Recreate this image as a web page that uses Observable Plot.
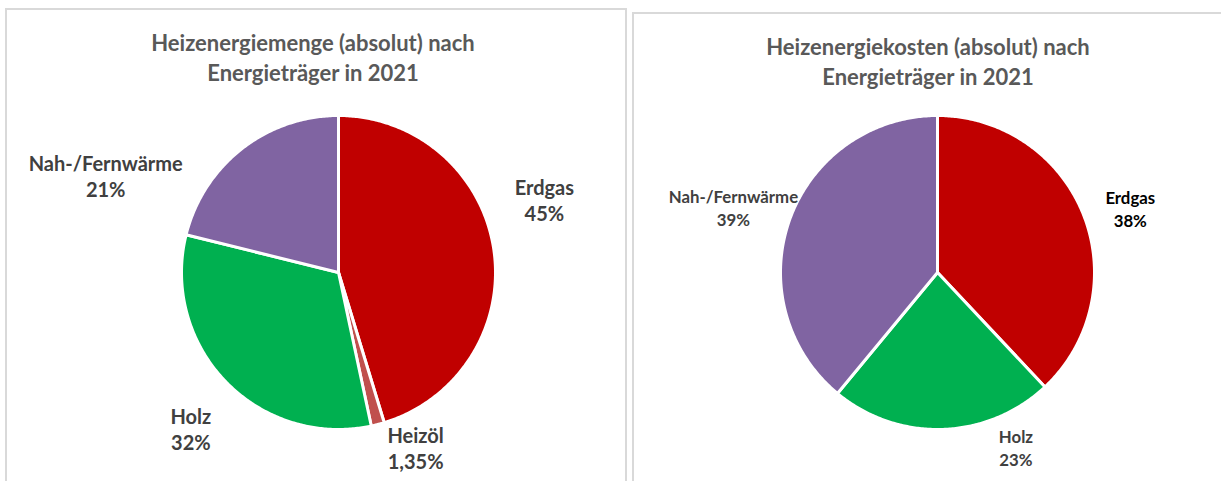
<!DOCTYPE html>
<html><head><meta charset="utf-8">
<script src="https://cdn.jsdelivr.net/npm/d3@7"></script>
<script src="https://cdn.jsdelivr.net/npm/@observablehq/plot@0.6"></script>
<style>
html,body{margin:0;padding:0;background:#fff;width:1221px;height:481px;overflow:hidden;font-family:Lato,"Open Sans",sans-serif;}
.panel{position:absolute;border:2px solid #d9d9d9;box-sizing:border-box;background:#fff;}
.title{position:absolute;text-align:center;font-weight:bold;font-size:22px;line-height:30px;color:#595959;white-space:nowrap;}
.chart{position:absolute;top:0;}
</style></head>
<body>
<div class="panel" style="left:5px;top:8px;width:622px;height:490px;"></div>
<div class="panel" style="left:632px;top:12px;width:600px;height:490px;"></div>
<div class="title" style="left:0;width:626px;top:28px;">Heizenergiemenge (absolut) nach<br>Energieträger in 2021</div>
<div class="title" style="left:632px;width:592px;top:32px;">Heizenergiekosten (absolut) nach<br>Energieträger in 2021</div>
<div id="c1" class="chart" style="left:0;"></div>
<div id="c2" class="chart" style="left:621px;"></div>
<script>
// ---- data ----
const carriers1 = ["Erdgas", "Heizöl", "Holz", "Nah-/Fernwärme"];
const shares1 = [45, 1.35, 32, 21];
const shareLabels1 = ["45%", "1,35%", "32%", "21%"];

const carriers2 = ["Erdgas", "Holz", "Nah-/Fernwärme"];
const shares2 = [38, 23, 39];
const shareLabels2 = ["38%", "23%", "39%"];

// ---- styling ----
const colorDomain = ["Erdgas", "Heizöl", "Holz", "Nah-/Fernwärme"];
const colorRange = ["#C00000", "#C0504D", "#00B050", "#8064A2"];
const labelNudge1 = {"Erdgas": [4, -43], "Heizöl": [26, -22], "Holz": [-1, 14], "Nah-/Fernwärme": [-107, 64]};
const labelNudge2 = {"Erdgas": [3, 11], "Holz": [72, -29], "Nah-/Fernwärme": [-12, 4]};
const labelRadius = 1.3;

function buildSlices(carriers, shares, labels) {
  const arcs = d3.pie().sort(null).value(d => d)(shares);
  return arcs.map((a, i) => {
    const ring = [[0, 0]];
    const n = Math.max(4, Math.ceil((a.endAngle - a.startAngle) / 0.01));
    for (let k = 0; k <= n; k++) {
      const t = a.startAngle + (a.endAngle - a.startAngle) * k / n;
      ring.push([Math.sin(t), -Math.cos(t)]);
    }
    ring.push([0, 0]);
    const mid = (a.startAngle + a.endAngle) / 2;
    return {
      type: "Feature",
      properties: {carrier: carriers[i], label: labels[i]},
      geometry: {type: "Polygon", coordinates: [ring]},
      lx: labelRadius * Math.sin(mid), ly: -labelRadius * Math.cos(mid),
      text: carriers[i] + "\n" + labels[i]
    };
  });
}

function pieChart(slices, opts) {
  return Plot.plot({
    width: opts.width, height: 481,
    marginLeft: opts.ml, marginRight: opts.mr, marginTop: 115, marginBottom: 52,
    projection: {type: "identity", clip: false, domain: {type: "MultiPoint", coordinates: [[-1, -1], [1, 1]]}},
    color: {domain: colorDomain, range: colorRange},
    style: {background: "transparent", overflow: "visible", fontFamily: "Lato, sans-serif"},
    marks: [
      Plot.geo(slices, {fill: d => d.properties.carrier, stroke: "white", strokeWidth: 3, strokeLinejoin: "round"}),
      Plot.text(slices, {
        x: "lx", y: "ly", text: "text",
        fontFamily: "Lato",
        fontWeight: "bold", fontSize: opts.fs, lineHeight: opts.lh,
        fill: d => opts.labelFill(d.properties.carrier),
        textAnchor: "middle", lineAnchor: "middle",
        render: (index, scales, values, dims, ctx, next) => {
          const g = next(index, scales, values, dims, ctx);
          d3.select(g).selectAll("text").each(function(_, j) {
            const d = slices[index[j]];
            const [nx, ny] = opts.nudge[d.properties.carrier];
            const t = this.getAttribute("transform") || "";
            this.setAttribute("transform", t + ` translate(${nx},${ny})`);
          });
          return g;
        }
      })
    ]
  });
}

document.getElementById("c1").append(pieChart(buildSlices(carriers1, shares1, shareLabels1), {
  width: 621, ml: 181, mr: 126, fs: 20, lh: 1.3, nudge: labelNudge1,
  labelFill: c => "#404040"
}));
document.getElementById("c2").append(pieChart(buildSlices(carriers2, shares2, shareLabels2), {
  width: 600, ml: 159, mr: 127, fs: 16.8, lh: 1.35, nudge: labelNudge2,
  labelFill: c => c === "Erdgas" ? "#000000" : "#404040"
}));
</script>
</body></html>
